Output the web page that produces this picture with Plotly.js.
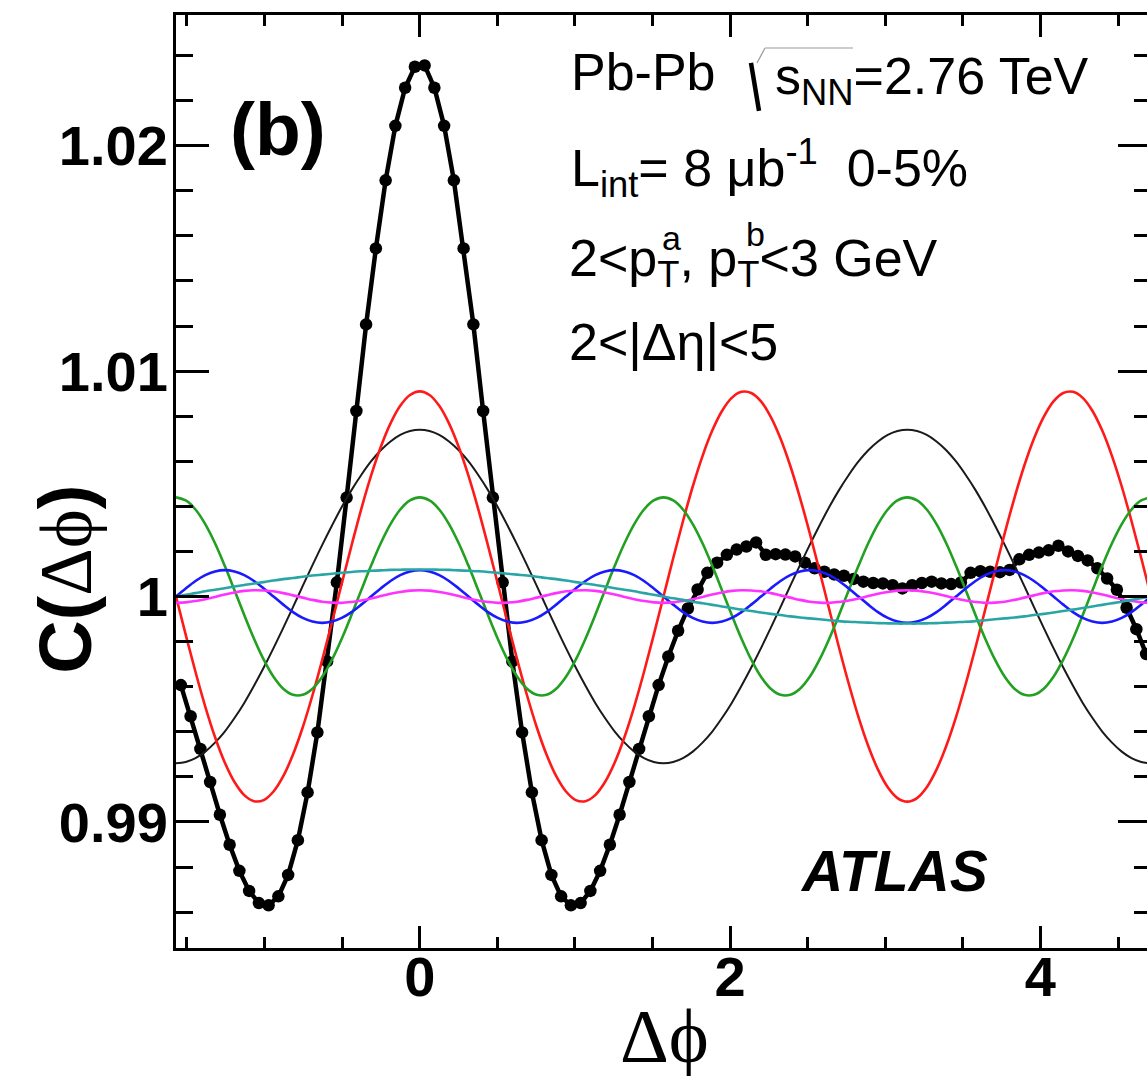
<!DOCTYPE html>
<html>
<head>
<meta charset="utf-8">
<script src="https://cdn.plot.ly/plotly-3.0.1.min.js"></script>
<style>
html,body{margin:0;padding:0;overflow:hidden;background:#fff;}
#chart{width:1160px;height:1076px;}
</style>
</head>
<body>
<div id="chart"></div>
<script>
// ---- measured correlation function C(dphi), bin centres ----
const dphi = [-1.5394,-1.4765,-1.4137,-1.3509,-1.2881,-1.2252,-1.1624,-1.0996,-1.0367,-0.9739,-0.9111,-0.8482,-0.7854,-0.7226,-0.6597,-0.5969,-0.5341,-0.4712,-0.4084,-0.3456,-0.2827,-0.2199,-0.1571,-0.0942,-0.0314,
0.0314,0.0942,0.1571,0.2199,0.2827,0.3456,0.4084,0.4712,0.5341,0.5969,0.6597,0.7226,0.7854,0.8482,0.9111,0.9739,1.0367,1.0996,1.1624,1.2252,1.2881,1.3509,1.4137,1.4765,1.5394,
1.6022,1.6650,1.7279,1.7907,1.8535,1.9164,1.9792,2.0420,2.1049,2.1677,2.2305,2.2934,2.3562,2.4190,2.4819,2.5447,2.6075,2.6704,2.7332,2.7960,2.8588,2.9217,2.9845,3.0473,3.1102,
3.1730,3.2358,3.2987,3.3615,3.4243,3.4872,3.5500,3.6128,3.6757,3.7385,3.8013,3.8642,3.9270,3.9898,4.0527,4.1155,4.1783,4.2412,4.3040,4.3668,4.4297,4.4925,4.5553,4.6181,4.6810];
const corr = [0.99607,0.99469,0.99324,0.99177,0.99032,0.98899,0.98783,0.98694,0.98640,0.98630,0.98670,0.98765,0.98919,0.99131,0.99397,0.99712,1.00063,1.00439,1.00823,1.01207,1.01544,1.01846,1.02088,1.02257,1.02350,
1.02356,1.02257,1.02088,1.01846,1.01544,1.01207,1.00823,1.00439,1.00063,0.99712,0.99397,0.99131,0.98919,0.98765,0.98670,0.98630,0.98640,0.98694,0.98783,0.98899,0.99032,0.99177,0.99324,0.99469,0.99607,
0.99734,0.99848,0.99947,1.00031,1.00105,1.00150,1.00185,1.00208,1.00222,1.00240,1.00185,1.00188,1.00186,1.00178,1.00150,1.00125,1.00110,1.00098,1.00092,1.00078,1.00066,1.00060,1.00058,1.00050,1.00036,
1.00050,1.00060,1.00066,1.00058,1.00055,1.00062,1.00105,1.00112,1.00110,1.00108,1.00118,1.00165,1.00185,1.00195,1.00205,1.00225,1.00200,1.00180,1.00160,1.00125,1.00080,1.00030,0.99950,0.99855,0.99745];

// ---- Fourier components, sampled on a fine dphi grid ----
const phiFine = [-1.5708,-1.5080,-1.4451,-1.3823,-1.3195,-1.2566,-1.1938,-1.1310,-1.0681,-1.0053,-0.9425,-0.8796,-0.8168,-0.7540,-0.6912,-0.6283,-0.5655,-0.5027,-0.4398,-0.3770,-0.3142,-0.2513,-0.1885,-0.1257,-0.0628,
0,
0.0628,0.1257,0.1885,0.2513,0.3142,0.3770,0.4398,0.5027,0.5655,0.6283,0.6912,0.7540,0.8168,0.8796,0.9425,1.0053,1.0681,1.1310,1.1938,1.2566,1.3195,1.3823,1.4451,1.5080,1.5708,
1.6336,1.6965,1.7593,1.8221,1.8850,1.9478,2.0106,2.0735,2.1363,2.1991,2.2619,2.3248,2.3876,2.4504,2.5133,2.5761,2.6389,2.7018,2.7646,2.8274,2.8903,2.9531,3.0159,3.0788,3.1416,
3.2044,3.2673,3.3301,3.3929,3.4558,3.5186,3.5814,3.6442,3.7071,3.7699,3.8327,3.8956,3.9584,4.0212,4.0841,4.1469,4.2097,4.2726,4.3354,4.3982,4.4611,4.5239,4.5867,4.6496,4.7124];

const harm1 = [1.00000,1.00008,1.00015,1.00023,1.00030,1.00037,1.00044,1.00051,1.00058,1.00064,1.00071,1.00077,1.00082,1.00088,1.00093,1.00097,1.00101,1.00105,1.00109,1.00112,1.00114,1.00116,1.00118,1.00119,1.00120,
1.00120,
1.00120,1.00119,1.00118,1.00116,1.00114,1.00112,1.00109,1.00105,1.00101,1.00097,1.00093,1.00088,1.00082,1.00077,1.00071,1.00064,1.00058,1.00051,1.00044,1.00037,1.00030,1.00023,1.00015,1.00008,1.00000,
0.99992,0.99985,0.99977,0.99970,0.99963,0.99956,0.99949,0.99942,0.99936,0.99929,0.99923,0.99918,0.99912,0.99907,0.99903,0.99899,0.99895,0.99891,0.99888,0.99886,0.99884,0.99882,0.99881,0.99880,0.99880,
0.99880,0.99881,0.99882,0.99884,0.99886,0.99888,0.99891,0.99895,0.99899,0.99903,0.99907,0.99912,0.99918,0.99923,0.99929,0.99936,0.99942,0.99949,0.99956,0.99963,0.99970,0.99977,0.99985,0.99992,1.00000];

const harm2 = [0.99260,0.99266,0.99283,0.99312,0.99352,0.99401,0.99461,0.99528,0.99604,0.99685,0.99771,0.99861,0.99953,1.00047,1.00139,1.00229,1.00315,1.00397,1.00472,1.00539,1.00599,1.00649,1.00688,1.00717,1.00734,
1.00740,
1.00734,1.00717,1.00688,1.00649,1.00599,1.00539,1.00472,1.00397,1.00315,1.00229,1.00139,1.00047,0.99953,0.99861,0.99771,0.99685,0.99604,0.99528,0.99461,0.99401,0.99352,0.99312,0.99283,0.99266,0.99260,
0.99266,0.99283,0.99312,0.99352,0.99401,0.99461,0.99528,0.99604,0.99685,0.99771,0.99861,0.99953,1.00047,1.00139,1.00229,1.00315,1.00397,1.00472,1.00539,1.00599,1.00649,1.00688,1.00717,1.00734,1.00740,
1.00734,1.00717,1.00688,1.00649,1.00599,1.00539,1.00472,1.00397,1.00315,1.00229,1.00139,1.00047,0.99953,0.99861,0.99771,0.99685,0.99604,0.99528,0.99461,0.99401,0.99352,0.99312,0.99283,0.99266,0.99260];

const harm3 = [1.00000,0.99830,0.99665,0.99512,0.99377,0.99264,0.99177,0.99119,0.99092,0.99097,0.99135,0.99203,0.99299,0.99420,0.99562,0.99719,0.99886,1.00057,1.00226,1.00388,1.00535,1.00663,1.00768,1.00846,1.00894,
1.00910,
1.00894,1.00846,1.00768,1.00663,1.00535,1.00388,1.00226,1.00057,0.99886,0.99719,0.99562,0.99420,0.99299,0.99203,0.99135,0.99097,0.99092,0.99119,0.99177,0.99264,0.99377,0.99512,0.99665,0.99830,1.00000,
1.00171,1.00335,1.00488,1.00623,1.00736,1.00823,1.00881,1.00908,1.00903,1.00866,1.00797,1.00701,1.00580,1.00438,1.00281,1.00114,0.99943,0.99774,0.99613,0.99465,0.99337,0.99232,0.99154,0.99106,0.99090,
0.99106,0.99154,0.99232,0.99337,0.99465,0.99613,0.99774,0.99943,1.00114,1.00281,1.00438,1.00580,1.00701,1.00797,1.00866,1.00903,1.00908,1.00881,1.00823,1.00736,1.00623,1.00488,1.00335,1.00171,1.00000];

const harm4 = [1.00440,1.00426,1.00386,1.00321,1.00236,1.00136,1.00028,0.99918,0.99813,0.99720,0.99644,0.99591,0.99564,0.99564,0.99591,0.99644,0.99720,0.99813,0.99918,1.00028,1.00136,1.00236,1.00321,1.00386,1.00426,
1.00440,1.00426,1.00386,1.00321,1.00236,1.00136,1.00028,0.99918,0.99813,0.99720,0.99644,0.99591,0.99564,0.99564,0.99591,0.99644,0.99720,0.99813,0.99918,1.00028,1.00136,1.00236,1.00321,1.00386,1.00426,
1.00440,1.00426,1.00386,1.00321,1.00236,1.00136,1.00028,0.99918,0.99813,0.99720,0.99644,0.99591,0.99564,0.99564,0.99591,0.99644,0.99720,0.99813,0.99918,1.00028,1.00136,1.00236,1.00321,1.00386,1.00426,
1.00440,1.00426,1.00386,1.00321,1.00236,1.00136,1.00028,0.99918,0.99813,0.99720,0.99644,0.99591,0.99564,0.99564,0.99591,0.99644,0.99720,0.99813,0.99918,1.00028,1.00136,1.00236,1.00321,1.00386,1.00426,
1.00440];

const harm5 = [1.00000,1.00036,1.00069,1.00095,1.00111,
1.00117,1.00111,1.00095,1.00069,1.00036,1.00000,0.99964,0.99931,0.99905,0.99889,0.99883,0.99889,0.99905,0.99931,0.99964,1.00000,1.00036,1.00069,1.00095,1.00111,
1.00117,1.00111,1.00095,1.00069,1.00036,1.00000,0.99964,0.99931,0.99905,0.99889,0.99883,0.99889,0.99905,0.99931,0.99964,1.00000,1.00036,1.00069,1.00095,1.00111,
1.00117,1.00111,1.00095,1.00069,1.00036,1.00000,0.99964,0.99931,0.99905,0.99889,0.99883,0.99889,0.99905,0.99931,0.99964,1.00000,1.00036,1.00069,1.00095,1.00111,
1.00117,1.00111,1.00095,1.00069,1.00036,1.00000,0.99964,0.99931,0.99905,0.99889,0.99883,0.99889,0.99905,0.99931,0.99964,1.00000,1.00036,1.00069,1.00095,1.00111,
1.00117,1.00111,1.00095,1.00069,1.00036,1.00000,0.99964,0.99931,0.99905,0.99889,0.99883,0.99889,0.99905,0.99931,0.99964,1.00000];

const harm6 = [0.99972,0.99974,0.99980,0.99988,0.99998,1.00009,1.00018,1.00025,1.00028,1.00027,1.00023,1.00015,1.00005,0.99995,0.99985,0.99977,0.99973,0.99972,0.99976,0.99982,0.99991,1.00002,1.00012,1.00020,1.00026,
1.00028,
1.00026,1.00020,1.00012,1.00002,0.99991,0.99982,0.99976,0.99972,0.99973,0.99977,0.99985,0.99995,1.00005,1.00015,1.00023,1.00027,1.00028,1.00025,1.00018,1.00009,0.99998,0.99988,0.99980,0.99974,0.99972,
0.99974,0.99980,0.99988,0.99998,1.00009,1.00018,1.00025,1.00028,1.00027,1.00023,1.00015,1.00005,0.99995,0.99985,0.99977,0.99973,0.99972,0.99976,0.99982,0.99991,1.00002,1.00012,1.00020,1.00026,1.00028,
1.00026,1.00020,1.00012,1.00002,0.99991,0.99982,0.99976,0.99972,0.99973,0.99977,0.99985,0.99995,1.00005,1.00015,1.00023,1.00027,1.00028,1.00025,1.00018,1.00009,0.99998,0.99988,0.99980,0.99974,0.99972];

const xTickVals = [0, 2, 4];
const xTickText = ['0', '2', '4'];
const yTickVals = [0.99, 1.00, 1.01, 1.02];
const yTickText = ['0.99', '1', '1.01', '1.02'];

// ---- layout geometry (pixels) ----
const W = 1160, H = 1076;
const PL = 176, PR = 1151, PT = 15, PB = 948.3;
const px = v => (v - PL) / (PR - PL);
const py = v => (PB - v) / (PB - PT);

const SANS = 'Liberation Sans, Arial, Helvetica, sans-serif';
const SERIF = 'Liberation Serif, DejaVu Serif, Times New Roman, serif';

const harmStyle = [
  {y: harm2, color: '#1a1a1a', width: 2},
  {y: harm3, color: '#ff1a1a', width: 2.6},
  {y: harm4, color: '#22a022', width: 2.6},
  {y: harm5, color: '#1a1aff', width: 2.6},
  {y: harm6, color: '#ff33ff', width: 2.6},
  {y: harm1, color: '#2aa5a5', width: 2.6}
];

const traces = [{
  x: dphi, y: corr, type: 'scatter', mode: 'lines+markers',
  line: {color: '#000', width: 4.5},
  marker: {color: '#000', size: 12.5, symbol: 'circle'},
  hoverinfo: 'skip'
}];
harmStyle.forEach(h => traces.push({
  x: phiFine, y: h.y, type: 'scatter', mode: 'lines',
  line: {color: h.color, width: h.width, shape: 'spline', smoothing: 1},
  hoverinfo: 'skip'
}));

const txt = (text, x, y, size, extra) => Object.assign({
  text: text, xref: 'paper', yref: 'paper', x: px(x), y: py(y),
  xanchor: 'left', yanchor: 'middle', showarrow: false,
  font: {family: SANS, size: size, color: '#000'}
}, extra || {});

const annotations = [
  txt('Pb-Pb', 569, 72, 52),
  txt('s<sub>NN</sub>=2.76 TeV', 773, 80, 52),
  txt('L<sub>int</sub>= 8 \u03bcb<sup>-1</sup>  0-5%', 569, 168, 52),
  txt('2<p<sub>T</sub>, p<sub>T</sub><3 GeV', 567, 262, 52),
  txt('a', 660, 238, 34),
  txt('b', 744, 234, 34),
  txt('2<|\u0394\u03b7|<5', 567, 342, 52),
  txt('<b>(b)</b>', 228, 129, 75),
  txt('<b><i>ATLAS</i></b>', 798, 871, 57),
  txt('\u0394\u03d5', 664, 1036, 76, {xanchor: 'center', font: {family: SERIF, size: 76, color: '#000'}}),
  txt('<b>C(</b><span style="font-family:Liberation Serif, DejaVu Serif">\u0394\u03d5</span><b>)</b>', 66, 580, 74,
      {xanchor: 'center', textangle: -90})
];

const shapes = [
  // radical sign of sqrt(s_NN)
  {type: 'line', xref: 'paper', yref: 'paper', x0: px(751), y0: py(63), x1: px(759), y1: py(111), line: {color: '#000', width: 4.5}},
  {type: 'line', xref: 'paper', yref: 'paper', x0: px(757), y0: py(63), x1: px(765), y1: py(48), line: {color: '#999', width: 1.2}},
  {type: 'line', xref: 'paper', yref: 'paper', x0: px(765), y0: py(48), x1: px(853), y1: py(48), line: {color: '#bbb', width: 1.5}}
];

const axisCommon = {
  showgrid: false, zeroline: false, showline: true, linecolor: '#000', linewidth: 3,
  mirror: 'ticks', ticks: 'inside', tickcolor: '#000', tickwidth: 3,
  tickfont: {family: SANS, size: 56, color: '#000', weight: 'bold'},
  tickmode: 'array'
};

const layout = {
  width: W, height: H,
  margin: {l: PL, r: W - PR, t: PT, b: H - PB},
  paper_bgcolor: '#fff', plot_bgcolor: '#fff',
  showlegend: false,
  xaxis: Object.assign({}, axisCommon, {
    range: [-1.5708, 4.7124], tickvals: xTickVals, ticktext: xTickText, ticklen: 22,
    ticklabelstandoff: -22,
    minor: {dtick: 0.5, tick0: 0, ticklen: 11, tickwidth: 3, tickcolor: '#000', ticks: 'inside'}
  }),
  yaxis: Object.assign({}, axisCommon, {
    range: [0.984408, 1.025796], tickvals: yTickVals, ticktext: yTickText, ticklen: 33,
    ticklabelstandoff: -6,
    minor: {dtick: 0.002, tick0: 1, ticklen: 17, tickwidth: 3, tickcolor: '#000', ticks: 'inside'}
  }),
  annotations: annotations,
  shapes: shapes
};

Plotly.newPlot('chart', traces, layout, {displayModeBar: false, staticPlot: true});
</script>
</body>
</html>
